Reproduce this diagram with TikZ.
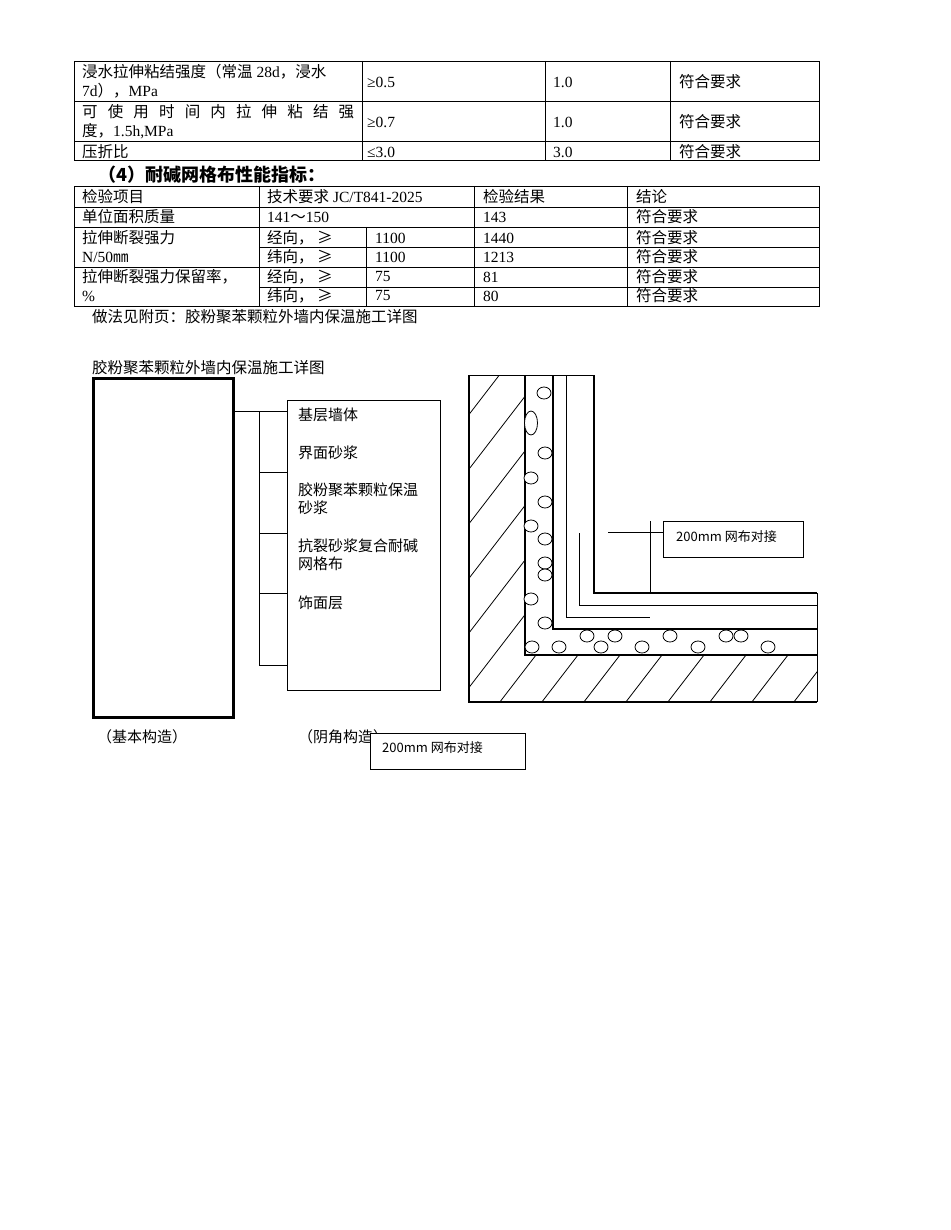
\documentclass[tikz,border=0pt]{standalone}
\usepackage{fontspec}
\setmainfont{Liberation Serif}
\newfontfamily\cj{Noto Sans CJK SC}
\begin{document}
\begin{tikzpicture}[x=1pt,y=-1pt,
  t/.style={anchor=west,inner sep=0pt,font=\fontsize{15.5}{17}\selectfont},
  s/.style={anchor=west,inner sep=0pt,font=\fontsize{15}{17}\selectfont\cj},
  thick3/.style={line width=2.6pt},
  thin1/.style={line width=0.8pt},
  bub/.style={draw,fill=white,line width=0.8pt}]
\useasboundingbox[fill=white] (0,0) rectangle (950,1230);
% ---------- table 1
\draw[thin1] (74,61) rectangle (819,160);
\foreach \y in {101,141} \draw[thin1] (74,\y) -- (819,\y);
\foreach \x in {362,545,670} \draw[thin1] (\x,61) -- (\x,160);
\node[t] (a1) at (82,72) {{\cj 浸水拉伸粘结强度（常温} 28d{\cj ，浸水}};
\node[t] (a2) at (82,91) {7d{\cj ），}MPa};
\node[t] (a3) at (82,112) {\makebox[272pt][s]{\cj 可 使 用 时 间 内 拉 伸 粘 结 强}};
\node[t] (a4) at (82,131) {{\cj 度，}1.5h,MPa};
\node[t] (a5) at (82,152) {\cj 压折比};
\node[t] (b1) at (367,82) {≥0.5};
\node[t] (b2) at (367,122) {≥0.7};
\node[t] (b3) at (367,152) {≤3.0};
\node[t] (c1) at (553,82) {1.0};
\node[t] (c2) at (553,122) {1.0};
\node[t] (c3) at (553,152) {3.0};
\node[t] (d1) at (679,82) {\cj 符合要求};
\node[t] (d2) at (679,122) {\cj 符合要求};
\node[t] (d3) at (679,152) {\cj 符合要求};
\node[anchor=west,inner sep=0pt,font=\fontsize{18}{20}\selectfont\cj\bfseries] (h4) at (98,175) {（4）耐碱网格布性能指标：};
% ---------- table 2
\draw[thin1] (74,186) rectangle (819,306);
\foreach \y in {207,227,267} \draw[thin1] (74,\y) -- (819,\y);
\foreach \y in {247,287} \draw[thin1] (259,\y) -- (819,\y);
\draw[thin1] (259,186) -- (259,306);
\draw[thin1] (474,186) -- (474,306);
\draw[thin1] (627,186) -- (627,306);
\draw[thin1] (366,227) -- (366,306);
\node[t] (e1) at (82,197) {\cj 检验项目};
\node[t] (e2) at (267,197) {{\cj 技术要求} JC/T841-2025};
\node[t] (e3) at (483,197) {\cj 检验结果};
\node[t] (e4) at (636,197) {\cj 结论};
\node[t] (f1) at (82,217) {\cj 单位面积质量};
\node[t] (f2) at (267,217) {141{\cj ～}150};
\node[t] (f3) at (483,217) {143};
\node[t] (f4) at (636,217) {\cj 符合要求};
\node[t] (g1) at (82,238) {\cj 拉伸断裂强力};
\node[t] (g2) at (82,257) {N/50{\cj ㎜}};
\node[t] (g3) at (82,277) {\cj 拉伸断裂强力保留率，};
\node[t] (g4) at (82,296) {\%};
\foreach \y/\w/\v/\r [count=\i] in {238/经向/1100/1440,257/纬向/1100/1213,277/经向/75/81,296/纬向/75/80}{
  \node[t] (k\i) at (267,\y) {{\cj \w，\ ≥}};
  \node[t] (v\i) at (375,\y) {\v};
  \node[t] (r\i) at (483,\y) {\r};
  \node[t] (q\i) at (636,\y) {\cj 符合要求};
}
\node[t] (note) at (92,317) {\cj 做法见附页：胶粉聚苯颗粒外墙内保温施工详图};
\node[t] (title) at (92,368) {\cj 胶粉聚苯颗粒外墙内保温施工详图};
% ---------- left diagram
\node[draw,line width=2.6pt,minimum width=140pt,minimum height=339pt,inner sep=0pt,anchor=north west] (wall) at (92,377) {};
\node[draw,thin1,minimum width=153pt,minimum height=290pt,inner sep=0pt,anchor=north west] (lbox) at (287,400) {};
\coordinate (j) at (259,411);
\draw[thin1] (wall.east |- j) -- (j) -- (259,665);
\foreach \y in {411,472,533,593,665} \draw[thin1] (259,\y) -- (lbox.west |- 0,\y);
\node[s] (l1) at (298,415) {基层墙体};
\node[s] (l2) at (298,453) {界面砂浆};
\node[s] (l3) at (298,490) {胶粉聚苯颗粒保温};
\node[s] (l3b) at (298,508) {砂浆};
\node[s] (l4) at (298,546) {抗裂砂浆复合耐碱};
\node[s] (l4b) at (298,564) {网格布};
\node[s] (l5) at (298,603) {饰面层};
\node[s] (cap1) at (97,737) {（基本构造）};
\node[s] (cap2) at (298,737) {（阴角构造）};
\node[draw,thin1,fill=white,minimum width=155pt,minimum height=36pt,inner sep=0pt,anchor=north west] (lab2) at (370,733) {};
\node[s,font=\fontsize{13}{15}\selectfont\cj] (lab2t) at (382,748) {200mm 网布对接};
% ---------- right diagram
\begin{scope}
\clip (469,375) -- (525,375) -- (525,655) -- (817,655) -- (817,702) -- (469,702) -- cycle;
\foreach \x in {150,192,...,900} \draw[thin1] (\x,720) -- ++(300,-390);
\end{scope}
\draw[thick3] (469,375) -- (469,702) -- (817,702);
\draw[thick3] (525,375) -- (525,655) -- (817,655);
\draw[thick3] (553,375) -- (553,629) -- (817,629);
\draw[thick3] (594,375) -- (594,593) -- (817,593);
\draw[thin1] (469,375) -- (594,375);
\draw[thin1] (817,593) -- (817,702);
\draw[thin1] (566,375) -- (566,617) -- (650,617);
\draw[thin1] (579,533) -- (579,605) -- (817,605);
\foreach \p in {(544,393),(545,453),(531,478),(545,502),(531,526),(545,539),(545,563),(545,575),(531,599),(545,623),
  (587,636),(615,636),(670,636),(726,636),(741,636),(532,647),(559,647),(601,647),(642,647),(698,647),(768,647)}
  \draw[bub] \p ellipse (7 and 6);
\draw[bub] (531,423) ellipse (6.5 and 12);
\node[draw,thin1,minimum width=140pt,minimum height=36pt,inner sep=0pt,anchor=north west] (lab1) at (663,521) {};
\node[s,font=\fontsize{13}{15}\selectfont\cj] (lab1t) at (676,537) {200mm 网布对接};
\coordinate (lead) at (608,532);
\draw[thin1] (lead) -- (lab1.west |- lead);
\draw[thin1] (650,521) -- (650,593);
\end{tikzpicture}
\end{document}
